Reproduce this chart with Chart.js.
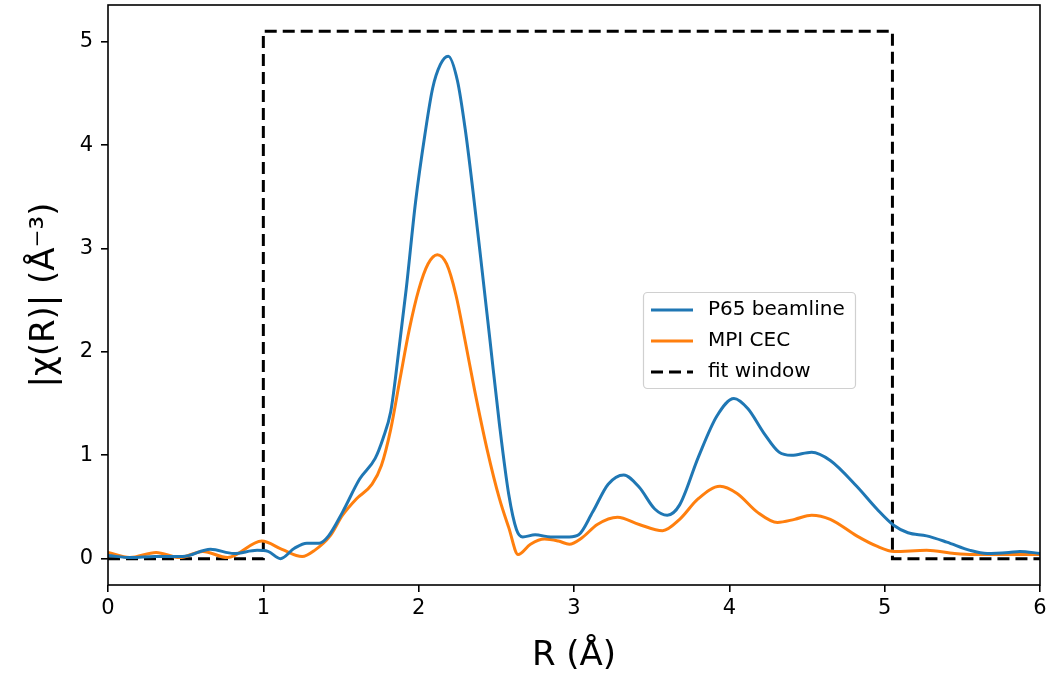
<!DOCTYPE html>
<html>
<head>
<meta charset="utf-8">
<script src="https://cdn.jsdelivr.net/npm/chart.js@4.4.1/dist/chart.umd.min.js"></script>
<style>
  html, body { margin: 0; padding: 0; background: #fff; }
  #wrap { width: 1052px; height: 674px; }
</style>
</head>
<body>
<div id="wrap"><canvas id="chiR" width="1052" height="674"></canvas></div>
<script>
// |chi(R)| magnitude
const p65R = [0.00, 0.15, 0.30, 0.48, 0.66, 0.81, 0.96, 1.03, 1.11, 1.20, 1.28, 1.36, 1.42, 1.51, 1.62, 1.72, 1.77, 1.82, 1.85, 1.92,
              1.98, 2.04, 2.09, 2.14, 2.19, 2.25, 2.30, 2.35, 2.40, 2.46, 2.52, 2.58, 2.63, 2.67, 2.75, 2.85, 2.97, 3.03, 3.12, 3.22,
              3.32, 3.42, 3.52, 3.60, 3.68, 3.80, 3.92, 4.03, 4.12, 4.22, 4.32, 4.40, 4.53, 4.65, 4.82, 4.95, 5.06, 5.15, 5.27, 5.40,
              5.55, 5.66, 5.80, 5.87, 6.00];
const p65Chi = [0.03, 0.01, 0.02, 0.02, 0.09, 0.05, 0.08, 0.07, 0.00, 0.10, 0.15, 0.15, 0.22, 0.45, 0.77, 0.97, 1.16, 1.42, 1.74, 2.61,
                3.45, 4.10, 4.55, 4.78, 4.86, 4.62, 4.15, 3.55, 2.90, 2.10, 1.30, 0.62, 0.28, 0.21, 0.23, 0.21, 0.21, 0.23, 0.45, 0.72,
                0.81, 0.69, 0.48, 0.42, 0.52, 0.98, 1.38, 1.55, 1.45, 1.22, 1.03, 1.00, 1.03, 0.95, 0.70, 0.48, 0.32, 0.25, 0.22, 0.16,
                0.08, 0.05, 0.06, 0.07, 0.05];

const cecR = [0.00, 0.14, 0.31, 0.46, 0.61, 0.77, 0.99, 1.12, 1.25, 1.33, 1.43, 1.51, 1.60, 1.70, 1.76, 1.82, 1.88, 1.94, 2.00, 2.06,
              2.12, 2.18, 2.24, 2.30, 2.36, 2.44, 2.52, 2.58, 2.64, 2.72, 2.81, 2.90, 2.97, 3.05, 3.15, 3.28, 3.42, 3.57, 3.68, 3.80,
              3.94, 4.05, 4.18, 4.31, 4.42, 4.53, 4.65, 4.82, 4.95, 5.06, 5.27, 5.45, 5.57, 6.00];
const cecChi = [0.06, 0.01, 0.06, 0.01, 0.07, 0.01, 0.17, 0.09, 0.02, 0.08, 0.22, 0.42, 0.58, 0.72, 0.90, 1.25, 1.74, 2.22, 2.60, 2.85,
                2.94, 2.85, 2.55, 2.10, 1.63, 1.06, 0.58, 0.30, 0.04, 0.14, 0.19, 0.17, 0.14, 0.20, 0.33, 0.40, 0.33, 0.27, 0.38, 0.58,
                0.70, 0.63, 0.45, 0.35, 0.38, 0.42, 0.38, 0.22, 0.12, 0.07, 0.08, 0.05, 0.04, 0.04];

// fit window outline
const winR   = [0.0, 1.0, 1.0, 5.05, 5.05, 6.0];
const winVal = [0.0, 0.0, 5.1, 5.1, 0.0, 0.0];

const xTicks = [0, 1, 2, 3, 4, 5, 6];
const yTicks = [0, 1, 2, 3, 4, 5];

const seriesNames = ['P65 beamline', 'MPI CEC', 'fit window'];
const BLUE = '#1f77b4', ORANGE = '#ff7f0e';
const FONT = "'DejaVu Sans', sans-serif";

const pts = (xs, ys) => xs.map((x, i) => ({ x, y: ys[i] }));

/* frame around the axes (matplotlib spines) */
const framePlugin = {
  id: 'frame',
  afterDatasetsDraw(chart) {
    const { ctx, chartArea: a } = chart;
    ctx.save();
    ctx.strokeStyle = '#000';
    ctx.lineWidth = 1.6;
    ctx.strokeRect(a.left, a.top, a.right - a.left, a.bottom - a.top);
    ctx.restore();
  },
};

/* legend box inside the axes */
const legendPlugin = {
  id: 'boxLegend',
  afterDraw(chart) {
    const { ctx, chartArea: a } = chart;
    const w = a.right - a.left, h = a.bottom - a.top;
    const bx = Math.round(a.left + 0.574 * w), by = Math.round(a.top + 0.495 * h);
    const bw = 212, bh = 96;
    ctx.save();
    ctx.fillStyle = 'rgba(255,255,255,0.85)';
    ctx.strokeStyle = '#d0d0d0';
    ctx.lineWidth = 1.2;
    ctx.beginPath();
    ctx.roundRect(bx + 0.5, by + 0.5, bw, bh, 4);
    ctx.fill();
    ctx.stroke();

    const styles = [
      { color: BLUE, dash: [] },
      { color: ORANGE, dash: [] },
      { color: '#000', dash: [12, 6] },
    ];
    ctx.font = `20px ${FONT}`;
    ctx.textBaseline = 'middle';
    seriesNames.forEach((name, i) => {
      const cy = by + 18 + i * 31;
      ctx.beginPath();
      ctx.setLineDash(styles[i].dash);
      ctx.strokeStyle = styles[i].color;
      ctx.lineWidth = 3;
      ctx.moveTo(bx + 8, cy);
      ctx.lineTo(bx + 50, cy);
      ctx.stroke();
      ctx.setLineDash([]);
      ctx.fillStyle = '#000';
      ctx.fillText(name, bx + 65, cy);
    });
    ctx.restore();
  },
};

new Chart(document.getElementById('chiR'), {
  type: 'line',
  plugins: [framePlugin, legendPlugin],
  data: {
    datasets: [
      {
        label: seriesNames[0],
        data: pts(p65R, p65Chi),
        borderColor: BLUE,
        borderWidth: 3,
        pointRadius: 0,
        cubicInterpolationMode: 'monotone',
      },
      {
        label: seriesNames[1],
        data: pts(cecR, cecChi),
        borderColor: ORANGE,
        borderWidth: 3,
        pointRadius: 0,
        cubicInterpolationMode: 'monotone',
      },
      {
        label: seriesNames[2],
        data: pts(winR, winVal),
        borderColor: '#000',
        borderWidth: 3,
        borderDash: [12, 6],
        pointRadius: 0,
        tension: 0,
      },
    ],
  },
  options: {
    responsive: false,
    animation: false,
    layout: { padding: { top: 5, right: 12, left: 0, bottom: 0 } },
    plugins: {
      legend: { display: false },
      tooltip: { enabled: false },
    },
    scales: {
      x: {
        type: 'linear',
        min: 0, max: 6,
        afterFit: s => { s.height = 89; s.paddingLeft = 0; s.paddingRight = 0; },
        afterBuildTicks: s => { s.ticks = xTicks.map(v => ({ value: v })); },
        grid: { drawOnChartArea: false, drawTicks: true, tickLength: 7, color: '#000', lineWidth: 1.6 },
        border: { display: false },
        ticks: { color: '#000', padding: 4, font: { family: FONT, size: 21 }, maxRotation: 0 },
        title: { display: true, text: 'R (Å)', color: '#000', font: { family: FONT, size: 34 }, padding: { top: 0, bottom: -3 } },
      },
      y: {
        type: 'linear',
        min: -0.255, max: 5.355,
        afterFit: s => { s.width = 108; s.paddingTop = 0; s.paddingBottom = 0; },
        afterBuildTicks: s => { s.ticks = yTicks.map(v => ({ value: v })); },
        grid: { drawOnChartArea: false, drawTicks: true, tickLength: 7, color: '#000', lineWidth: 1.6 },
        border: { display: false },
        ticks: { color: '#000', padding: 8, font: { family: FONT, size: 21 } },
        title: { display: true, text: '|χ(R)| (Å⁻³)', color: '#000', font: { family: FONT, size: 34 }, padding: { top: 25, bottom: 0 } },
      },
    },
  },
});
</script>
</body>
</html>
